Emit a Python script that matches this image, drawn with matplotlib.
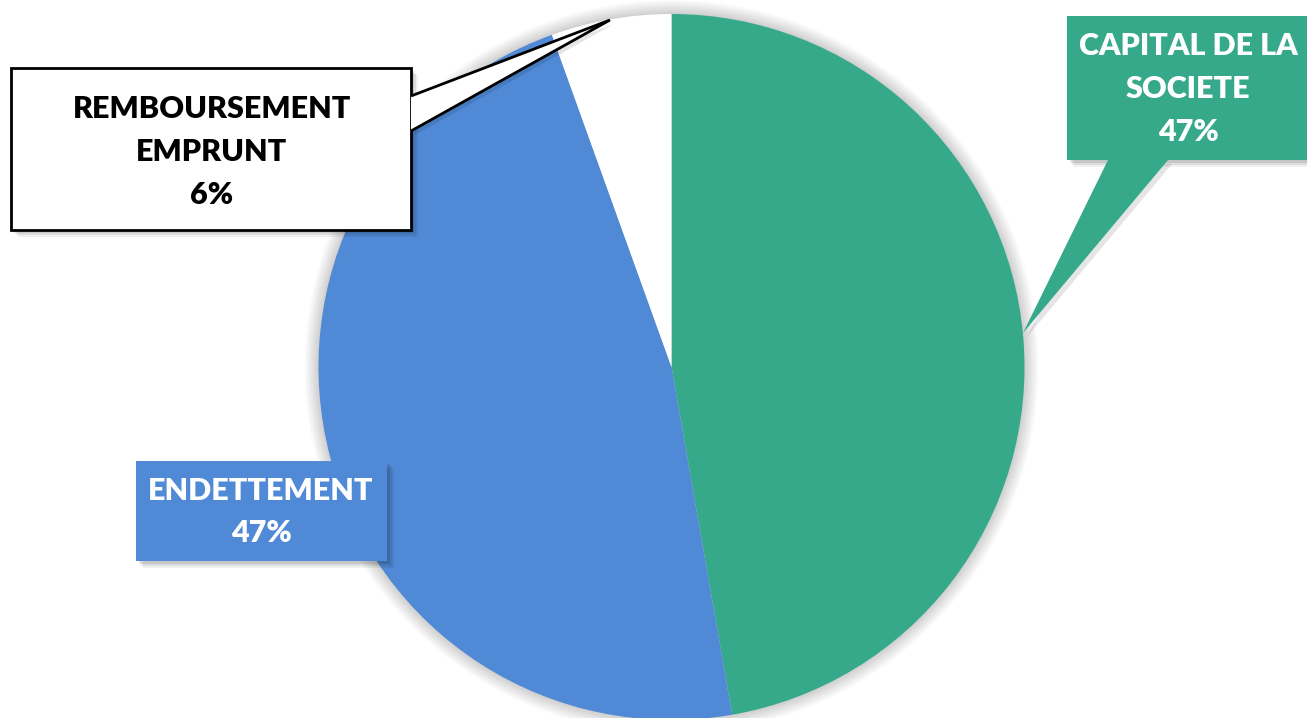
import numpy as np
import matplotlib.pyplot as plt
from matplotlib.patches import Rectangle, Polygon, Circle

W, H = 1307, 718

categories = ['CAPITAL DE LA\nSOCIETE', 'ENDETTEMENT', 'REMBOURSEMENT\nEMPRUNT']
shares = [47.25, 47.25, 5.5]
colors = ['#37A98B', '#5089D5', '#FFFFFF']
text_colors = ['white', 'white', 'black']

plt.rcParams['font.family'] = ['Lato', 'DejaVu Sans']

fig = plt.figure(figsize=(W / 100, H / 100), dpi=100)
ax = fig.add_axes([0, 0, 1, 1])


def py(y):
    # image pixel row -> data y
    return H - y


cx, cy, r = 671.5, py(367), 353

# soft shadow behind the pie
for k in range(12):
    ax.add_patch(Circle((cx, cy), r + 14 - k * 1.2, color='black',
                        alpha=0.014, lw=0, zorder=0))

ax.pie(shares, colors=colors, startangle=90, counterclock=False,
       center=(cx, cy), radius=r, frame=True,
       wedgeprops=dict(linewidth=0, zorder=1))

# callout boxes: (left, top, right, bottom), pointer base points, tip
boxes = [
    dict(box=(1067, 16, 1320, 160), base=[(1108, 160), (1168, 160)], tip=(1023, 333),
         text_xy=(1188, 89), edge='none'),
    dict(box=(136, 461, 387, 561), base=None, tip=None,
         text_xy=(261, 512), edge='none'),
    dict(box=(11, 68, 411, 230), base=[(411, 96), (411, 131)], tip=(610, 20),
         text_xy=(212, 152), edge='black'),
]

total = sum(shares)
for cat, val, col, tcol, b in zip(categories, shares, colors, text_colors, boxes):
    x0, y0, x1, y1 = b['box']
    # drop shadow
    for k, a in enumerate([0.10, 0.08, 0.06]):
        ax.add_patch(Rectangle((x0 + 3 + k * 2, py(y1) - 3 - k * 2), x1 - x0, y1 - y0,
                               color='black', alpha=a, lw=0, zorder=3))
    if b['base'] is not None:
        pts = [(b['base'][0][0], py(b['base'][0][1])), (b['tip'][0], py(b['tip'][1])),
               (b['base'][1][0], py(b['base'][1][1]))]
        ax.add_patch(Polygon([(p[0] + 4, p[1] - 4) for p in pts], closed=True,
                             color='black', alpha=0.1, lw=0, zorder=3))
    ax.add_patch(Rectangle((x0, py(y1)), x1 - x0, y1 - y0, facecolor=col,
                           edgecolor=b['edge'], lw=2, zorder=4))
    if b['base'] is not None:
        # pointer fill hides the box border where it joins
        ax.add_patch(Polygon(pts, closed=True, facecolor=col, edgecolor='none',
                             lw=0, zorder=6))
        ax.add_patch(Polygon(pts, closed=False, facecolor='none',
                             edgecolor=b['edge'], lw=2, zorder=7))
    pct = int(val / total * 100 + 0.5)
    ax.text(b['text_xy'][0], py(b['text_xy'][1]), f"{cat}\n{pct}%", color=tcol,
            fontsize=22, fontweight='heavy', ha='center', va='center',
            linespacing=1.65, zorder=8)

ax.set_xlim(0, W)
ax.set_ylim(0, H)
ax.set_aspect('equal')
ax.axis('off')

fig.savefig('out.png', dpi=100, facecolor='white')
